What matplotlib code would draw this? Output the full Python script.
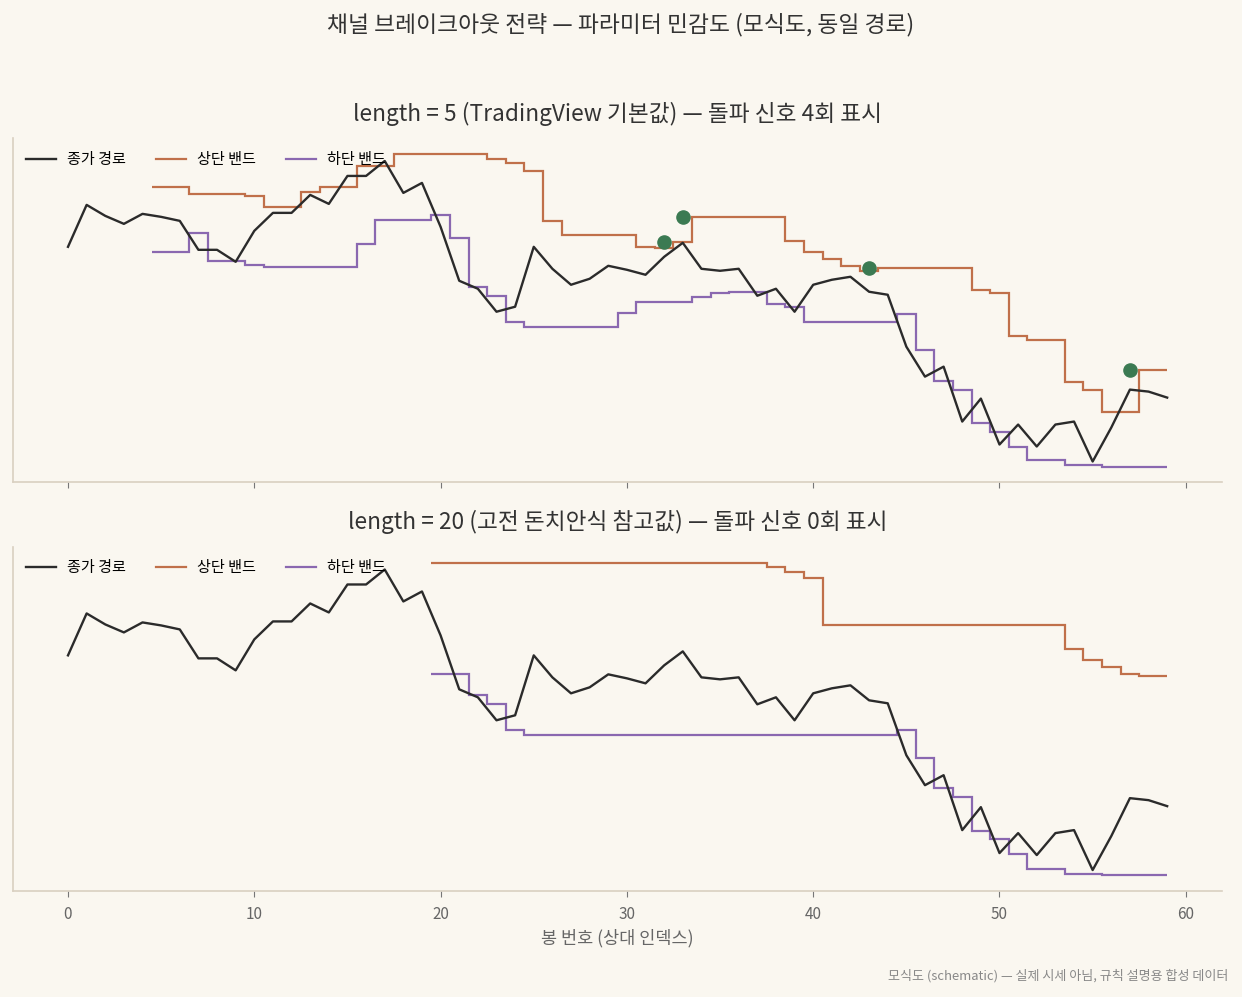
import numpy as np
import matplotlib
matplotlib.use("Agg")
import matplotlib.pyplot as plt

plt.rcParams['font.family'] = ['Noto Sans CJK KR', 'DejaVu Sans']

# 종가 경로 (봉 0..59)
close = [99.9, 104.1, 103.0, 102.2, 103.2, 102.9, 102.5, 99.6, 99.6, 98.4,
         101.5, 103.3, 103.3, 105.1, 104.2, 107.0, 107.0, 108.5, 105.3, 106.3,
         101.9, 96.5, 95.7, 93.4, 93.9, 99.9, 97.7, 96.1, 96.7, 98.0,
         97.6, 97.1, 98.9, 100.3, 97.7, 97.5, 97.7, 95.0, 95.7, 93.4,
         96.1, 96.6, 96.9, 95.4, 95.1, 89.9, 86.9, 87.9, 82.4, 84.7,
         80.1, 82.1, 79.9, 82.1, 82.4, 78.4, 81.8, 85.6, 85.4, 84.8]

# length = 5 밴드 (봉 5..59)
upper5 = [105.9, 105.9, 105.2, 105.2, 105.2, 105.0, 103.9, 103.9, 105.4, 105.9,
          105.9, 108.0, 108.0, 109.2, 109.2, 109.2, 109.2, 109.2, 108.7, 108.3,
          107.5, 102.5, 101.1, 101.1, 101.1, 101.1, 99.9, 99.8, 100.4, 102.9,
          102.9, 102.9, 102.9, 102.9, 100.5, 99.4, 98.7, 98.0, 97.5, 97.8,
          97.8, 97.8, 97.8, 97.8, 95.6, 95.3, 91.0, 90.6, 90.6, 86.4,
          85.6, 83.4, 83.4, 87.6, 87.6]
lower5 = [99.4, 99.4, 101.3, 98.5, 98.5, 98.1, 97.9, 97.9, 97.9, 97.9,
          97.9, 100.2, 102.6, 102.6, 102.6, 103.1, 100.8, 95.9, 95.0, 92.4,
          91.9, 91.9, 91.9, 91.9, 91.9, 93.3, 94.4, 94.4, 94.4, 94.9,
          95.3, 95.4, 95.4, 94.2, 93.9, 92.4, 92.4, 92.4, 92.4, 92.4,
          93.2, 89.6, 86.5, 85.6, 82.3, 81.4, 79.9, 78.5, 78.5, 78.0,
          78.0, 77.8, 77.8, 77.8, 77.8]

# length = 20 밴드 (봉 20..59)
upper20 = [109.2, 109.2, 109.2, 109.2, 109.2, 109.2, 109.2, 109.2, 109.2, 109.2,
           109.2, 109.2, 109.2, 109.2, 109.2, 109.2, 109.2, 109.2, 108.8, 108.3,
           107.6, 102.9, 102.9, 102.9, 102.9, 102.9, 102.9, 102.9, 102.9, 102.9,
           102.9, 102.9, 102.9, 102.9, 100.5, 99.4, 98.7, 98.0, 97.8, 97.8]
lower20 = [98.0, 98.0, 95.9, 95.0, 92.4, 91.9, 91.9, 91.9, 91.9, 91.9,
           91.9, 91.9, 91.9, 91.9, 91.9, 91.9, 91.9, 91.9, 91.9, 91.9,
           91.9, 91.9, 91.9, 91.9, 91.9, 92.4, 89.6, 86.6, 85.7, 82.3,
           81.5, 80.0, 78.5, 78.5, 78.0, 78.0, 77.9, 77.9, 77.9, 77.9]

# 돌파 신호 (length = 5)
sig_x = [32, 33, 43, 57]
sig_y = [100.4, 102.9, 97.8, 87.6]

BG = "#faf7f0"
C_CLOSE = "#2b2b2b"
C_UP = "#c0704a"
C_LOW = "#8a68b0"
C_SIG = "#3b7a52"
C_SPINE = "#d9d0c1"

fig, axes = plt.subplots(2, 1, figsize=(12.42, 9.97), dpi=100, sharex=True, sharey=True)
fig.patch.set_facecolor(BG)
fig.subplots_adjust(left=0.0105, right=0.984, top=0.8616, bottom=0.1063, hspace=0.186)

x = np.arange(len(close))

panels = [
    (5, upper5, lower5, "length = 5 (TradingView 기본값) — 돌파 신호 4회 표시", True),
    (20, upper20, lower20, "length = 20 (고전 돈치안식 참고값) — 돌파 신호 0회 표시", False),
]

for ax, (n, up, lo, title, show_sig) in zip(axes, panels):
    ax.set_facecolor(BG)
    edges = np.append(np.arange(n - 0.5, len(close) - 1, 1.0), len(close) - 1)
    ax.plot(x, close, color=C_CLOSE, lw=1.7, label="종가 경로", zorder=3)
    ax.stairs(up, edges, baseline=None, color=C_UP, lw=1.6, label="상단 밴드", zorder=2)
    ax.stairs(lo, edges, baseline=None, color=C_LOW, lw=1.6, label="하단 밴드", zorder=2)
    if show_sig:
        ax.scatter(sig_x, sig_y, s=90, color=C_SIG, zorder=4)
    ax.set_title(title, fontsize=16.3, color="#333333", pad=12.5)
    ax.legend(loc="upper left", ncol=3, frameon=False, fontsize=10.9,
              columnspacing=2.0, handlelength=2.0, handletextpad=0.7,
              borderaxespad=0.45)
    for s in ["top", "right"]:
        ax.spines[s].set_visible(False)
    for s in ["left", "bottom"]:
        ax.spines[s].set_color(C_SPINE)
        ax.spines[s].set_linewidth(1.2)
    ax.tick_params(axis="y", left=False, labelleft=False)
    ax.tick_params(axis="x", colors="#777777", labelcolor="#666666", labelsize=11, length=4, pad=7)

axes[0].set_ylim(76.3, 110.8)
axes[0].set_xlim(-2.95, 61.95)
axes[1].set_xlabel("봉 번호 (상대 인덱스)", fontsize=12.6, color="#666666", labelpad=4)

fig.suptitle("채널 브레이크아웃 전략 — 파라미터 민감도 (모식도, 동일 경로)",
             fontsize=16.4, color="#333333", y=0.975, va="center")
fig.text(0.9887, 0.021, "모식도 (schematic) — 실제 시세 아님, 규칙 설명용 합성 데이터",
         ha="right", va="center", fontsize=9.4, color="#888888")

fig.savefig("out.png", dpi=100, facecolor=BG)
